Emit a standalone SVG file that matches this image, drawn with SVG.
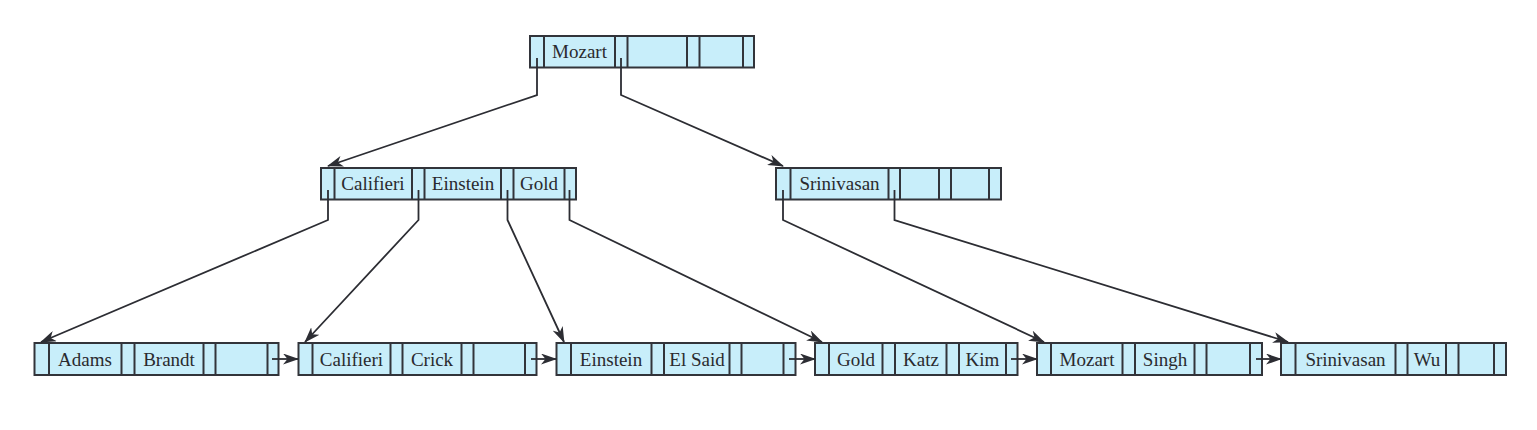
<svg xmlns="http://www.w3.org/2000/svg" width="1537" height="430" viewBox="0 0 1537 430">
<style>
.box{fill:#c8eefa;stroke:#32343a;stroke-width:2}
.div{stroke:#32343a;stroke-width:2}
.t{font-family:"Liberation Serif","Times New Roman",serif;font-size:19px;fill:#2a2a2e;text-anchor:middle}
.c{fill:none;stroke:#2c2d33;stroke-width:1.8}
</style>
<defs>
<marker id="ah" markerWidth="16" markerHeight="11" refX="15" refY="5.5" orient="auto" markerUnits="userSpaceOnUse">
<path d="M0,0 L16,5.5 L0,11 L4.5,5.5 z" fill="#2c2d33"/>
</marker>
</defs>
<rect width="1537" height="430" fill="#ffffff"/>

<g id="node-root">
<rect class="box" x="530" y="36" width="224" height="31.5"/>
<path class="div" d="M544,36V67.5M615,36V67.5M627.5,36V67.5M687,36V67.5M699.5,36V67.5M743,36V67.5"/>
<text class="t" x="579.5" y="58">Mozart</text>
</g>

<g id="node-internal-left">
<rect class="box" x="321" y="168" width="255" height="31.5"/>
<path class="div" d="M334.5,168V199.5M412,168V199.5M424.5,168V199.5M501,168V199.5M513.5,168V199.5M564.5,168V199.5"/>
<text class="t" x="373" y="190">Califieri</text>
<text class="t" x="463" y="190">Einstein</text>
<text class="t" x="539" y="190">Gold</text>
</g>

<g id="node-internal-right">
<rect class="box" x="776" y="168" width="225" height="31.5"/>
<path class="div" d="M790.5,168V199.5M888.5,168V199.5M900,168V199.5M939,168V199.5M951,168V199.5M989,168V199.5"/>
<text class="t" x="839.5" y="190">Srinivasan</text>
</g>

<g id="leaf-1">
<rect class="box" x="34.5" y="343" width="244" height="32"/>
<path class="div" d="M49,343V375M121.5,343V375M134.5,343V375M203.5,343V375M215.5,343V375M267.5,343V375"/>
<text class="t" x="85" y="366">Adams</text>
<text class="t" x="169" y="366">Brandt</text>
</g>

<g id="leaf-2">
<rect class="box" x="298.5" y="343" width="238" height="32"/>
<path class="div" d="M312.5,343V375M390.5,343V375M402.5,343V375M461.5,343V375M473.5,343V375M525,343V375"/>
<text class="t" x="351.5" y="366">Califieri</text>
<text class="t" x="432" y="366">Crick</text>
</g>

<g id="leaf-3">
<rect class="box" x="556.5" y="343" width="239" height="32"/>
<path class="div" d="M571,343V375M651.5,343V375M664,343V375M729.5,343V375M741.5,343V375M783.5,343V375"/>
<text class="t" x="611" y="366">Einstein</text>
<text class="t" x="697" y="366">El Said</text>
</g>

<g id="leaf-4">
<rect class="box" x="815" y="343" width="202.5" height="32"/>
<path class="div" d="M829,343V375M882.5,343V375M895,343V375M946.5,343V375M959,343V375M1006,343V375"/>
<text class="t" x="856" y="366">Gold</text>
<text class="t" x="921" y="366">Katz</text>
<text class="t" x="982.5" y="366">Kim</text>
</g>

<g id="leaf-5">
<rect class="box" x="1037" y="343" width="225" height="32"/>
<path class="div" d="M1051,343V375M1122.5,343V375M1135,343V375M1194.5,343V375M1206.5,343V375M1250,343V375"/>
<text class="t" x="1087" y="366">Mozart</text>
<text class="t" x="1165" y="366">Singh</text>
</g>

<g id="leaf-6">
<rect class="box" x="1281" y="343" width="225" height="32"/>
<path class="div" d="M1295.5,343V375M1395.5,343V375M1407.5,343V375M1446,343V375M1458.5,343V375M1494,343V375"/>
<text class="t" x="1345.5" y="366">Srinivasan</text>
<text class="t" x="1427" y="366">Wu</text>
</g>

<g id="connectors">
<polyline class="c" points="537,58 537,95 328,166" marker-end="url(#ah)"/>
<polyline class="c" points="621,58 621,95 783,166" marker-end="url(#ah)"/>
<polyline class="c" points="328,190 328,220 41,342" marker-end="url(#ah)"/>
<polyline class="c" points="418.5,190 418.5,220 305,342" marker-end="url(#ah)"/>
<polyline class="c" points="507.5,190 507.5,220 564,342" marker-end="url(#ah)"/>
<polyline class="c" points="569.5,190 569.5,220 822,342" marker-end="url(#ah)"/>
<polyline class="c" points="783,190 783,220 1044,342" marker-end="url(#ah)"/>
<polyline class="c" points="894.5,190 894.5,220 1288,342" marker-end="url(#ah)"/>
<line class="c" x1="272" y1="359" x2="298" y2="359" marker-end="url(#ah)"/>
<line class="c" x1="531" y1="359" x2="556" y2="359" marker-end="url(#ah)"/>
<line class="c" x1="789" y1="359" x2="815" y2="359" marker-end="url(#ah)"/>
<line class="c" x1="1011" y1="359" x2="1037" y2="359" marker-end="url(#ah)"/>
<line class="c" x1="1256" y1="359" x2="1281" y2="359" marker-end="url(#ah)"/>
</g>
</svg>
